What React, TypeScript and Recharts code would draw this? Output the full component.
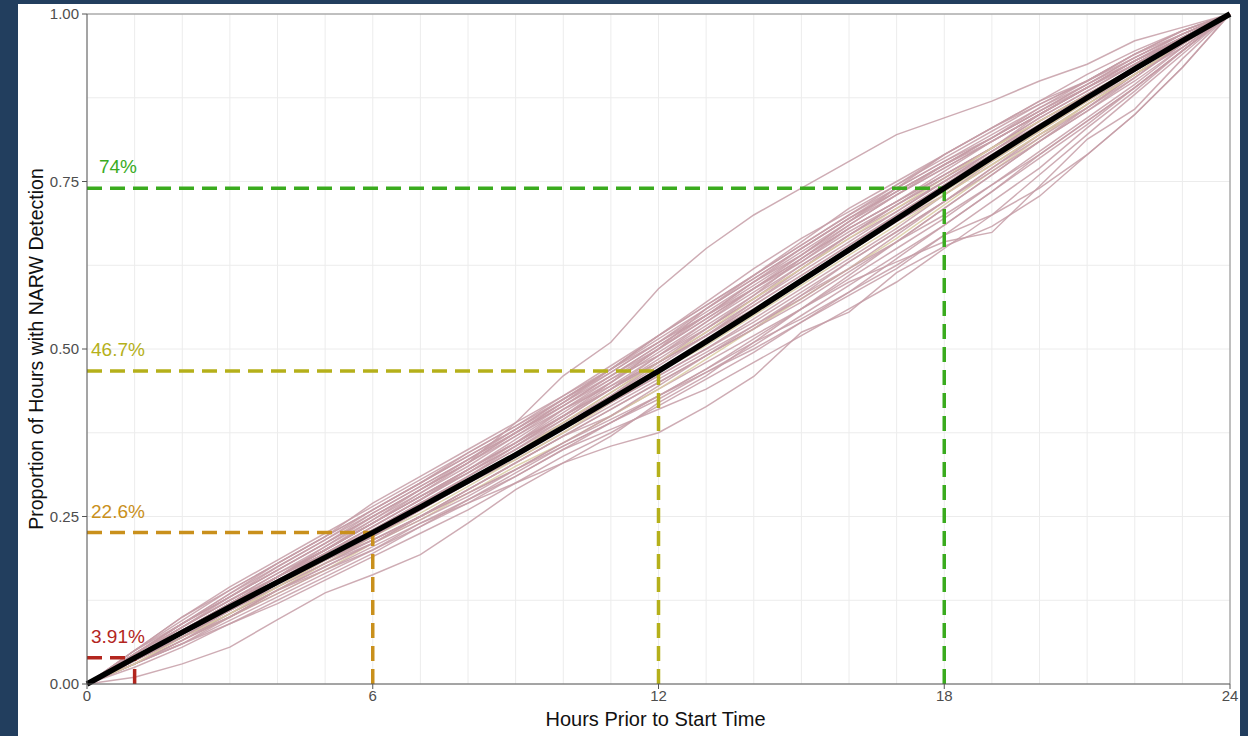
import React from "react";
import {
  LineChart,
  Line,
  XAxis,
  YAxis,
  CartesianGrid,
  ReferenceLine,
  ReferenceDot,
} from "recharts";

// ---------------------------------------------------------------------------
// Data
// ---------------------------------------------------------------------------

const HOURS = [0, 1, 2, 3, 4, 5, 6, 7, 8, 9, 10, 11, 12, 13, 14, 15, 16, 17, 18, 19, 20, 21, 22, 23, 24];

// averaged cumulative proportion (black line)
const MEAN = [
  0, 0.039, 0.077, 0.115, 0.152, 0.189, 0.226, 0.264, 0.303, 0.342, 0.383, 0.425, 0.467,
  0.511, 0.556, 0.602, 0.648, 0.694, 0.74, 0.786, 0.831, 0.875, 0.918, 0.96, 1,
];

// individual runs (pink lines)
const RUNS = [
  [0, .05, .09, .13, .17, .21, .25, .29, .33, .39, .46, .51, .59, .65, .70, .74, .78, .82, .845, .87, .90, .925, .96, .98, 1],
  [0, .03, .06, .10, .14, .18, .21, .25, .29, .33, .37, .40, .44, .48, .52, .56, .60, .63, .66, .674, .743, .813, .858, .933, 1],
  [0, .03, .07, .10, .14, .17, .20, .24, .27, .30, .33, .355, .375, .414, .459, .525, .555, .614, .653, .683, .728, .79, .85, .92, 1],
  [0, .01, .03, .055, .096, .136, .163, .193, .24, .29, .33, .37, .42, .46, .51, .56, .61, .66, .71, .76, .81, .86, .91, .95, 1],
  [0, .05, .10, .14, .18, .22, .27, .31, .35, .39, .43, .47, .51, .55, .59, .63, .68, .72, .76, .80, .85, .89, .93, .97, 1],
  [0, .04, .08, .12, .16, .20, .24, .28, .32, .36, .41, .45, .50, .55, .60, .64, .69, .73, .77, .81, .85, .89, .93, .965, 1],
  [0, .035, .07, .11, .145, .18, .215, .25, .29, .33, .37, .41, .45, .49, .53, .58, .62, .67, .72, .77, .82, .86, .91, .955, 1],
  [0, .045, .085, .125, .165, .20, .24, .28, .315, .355, .40, .44, .48, .52, .57, .62, .67, .71, .75, .79, .83, .87, .91, .955, 1],
  [0, .03, .065, .10, .135, .17, .21, .245, .285, .325, .36, .40, .44, .485, .53, .575, .62, .665, .715, .765, .815, .865, .91, .955, 1],
  [0, .04, .08, .115, .155, .195, .235, .275, .315, .36, .405, .45, .495, .54, .585, .63, .675, .715, .755, .80, .84, .88, .92, .96, 1],
  [0, .035, .075, .11, .15, .185, .22, .26, .30, .34, .38, .42, .46, .50, .545, .59, .635, .68, .73, .78, .825, .87, .915, .96, 1],
  [0, .04, .08, .12, .16, .20, .24, .28, .32, .36, .40, .45, .50, .56, .61, .66, .71, .75, .79, .83, .87, .90, .94, .975, 1],
  [0, .04, .075, .11, .15, .19, .225, .26, .30, .335, .375, .415, .455, .495, .535, .575, .62, .66, .70, .745, .79, .84, .89, .945, 1],
  [0, .035, .07, .105, .14, .18, .22, .255, .295, .335, .375, .42, .465, .51, .555, .60, .645, .69, .735, .78, .825, .87, .915, .96, 1],
  [0, .045, .09, .13, .17, .21, .255, .295, .335, .375, .415, .455, .49, .53, .575, .62, .665, .705, .75, .795, .84, .88, .92, .96, 1],
  [0, .03, .06, .095, .13, .165, .20, .235, .27, .31, .35, .39, .43, .47, .515, .56, .605, .65, .695, .745, .795, .845, .895, .95, 1],
  [0, .04, .08, .12, .155, .19, .23, .27, .305, .345, .385, .43, .475, .52, .565, .61, .655, .70, .745, .79, .835, .875, .915, .96, 1],
  [0, .03, .065, .10, .135, .17, .205, .24, .275, .31, .35, .38, .41, .44, .48, .52, .56, .60, .65, .70, .76, .82, .88, .94, 1],
  [0, .035, .075, .115, .155, .195, .235, .275, .315, .355, .395, .44, .485, .53, .575, .625, .67, .715, .76, .80, .845, .885, .925, .965, 1],
  [0, .04, .085, .13, .17, .21, .25, .29, .33, .37, .41, .445, .48, .52, .56, .60, .645, .69, .73, .775, .82, .865, .91, .955, 1],
  [0, .03, .065, .105, .145, .185, .22, .26, .30, .345, .39, .435, .48, .525, .57, .615, .66, .705, .75, .795, .84, .88, .92, .96, 1],
  [0, .04, .075, .115, .15, .185, .22, .26, .30, .34, .385, .43, .48, .53, .58, .635, .685, .73, .775, .815, .86, .90, .94, .975, 1],
  [0, .035, .07, .105, .14, .175, .21, .25, .29, .33, .37, .41, .45, .49, .53, .57, .615, .66, .71, .76, .81, .855, .90, .95, 1],
  [0, .045, .085, .125, .16, .195, .23, .27, .31, .35, .39, .43, .47, .515, .56, .605, .65, .695, .74, .785, .83, .875, .915, .96, 1],
  [0, .03, .065, .10, .14, .175, .21, .245, .28, .32, .36, .395, .43, .465, .50, .54, .58, .62, .67, .70, .74, .79, .85, .92, 1],
  [0, .04, .08, .12, .16, .20, .24, .285, .33, .375, .42, .465, .51, .555, .60, .645, .69, .735, .775, .815, .855, .895, .935, .97, 1],
  [0, .035, .075, .11, .15, .19, .225, .265, .305, .345, .385, .425, .465, .505, .55, .595, .64, .685, .73, .775, .82, .865, .91, .955, 1],
  [0, .04, .075, .11, .145, .18, .215, .25, .285, .32, .36, .40, .445, .49, .535, .58, .63, .675, .72, .765, .81, .855, .905, .955, 1],
  [0, .04, .08, .12, .16, .20, .24, .28, .32, .36, .40, .44, .49, .54, .59, .64, .69, .74, .79, .83, .87, .91, .945, .975, 1],
  [0, .035, .07, .11, .15, .19, .23, .265, .30, .34, .38, .42, .46, .50, .54, .585, .63, .675, .72, .77, .815, .86, .905, .955, 1],
  [0, .045, .09, .135, .175, .215, .255, .295, .335, .375, .415, .46, .50, .545, .59, .635, .68, .72, .76, .80, .845, .885, .925, .965, 1],
  [0, .03, .06, .09, .125, .16, .195, .235, .275, .315, .355, .39, .425, .465, .505, .55, .595, .64, .685, .735, .785, .835, .89, .945, 1],
  [0, .045, .09, .13, .175, .215, .26, .30, .34, .38, .42, .46, .505, .55, .595, .64, .685, .73, .77, .81, .85, .89, .93, .965, 1],
  [0, .04, .085, .125, .165, .205, .245, .285, .325, .37, .415, .46, .505, .55, .60, .65, .695, .735, .775, .815, .855, .895, .93, .965, 1],
  [0, .05, .095, .14, .18, .22, .26, .30, .345, .385, .425, .465, .51, .56, .605, .65, .695, .74, .78, .82, .86, .895, .935, .97, 1],
  [0, .035, .08, .12, .16, .20, .245, .29, .335, .38, .425, .47, .52, .57, .62, .665, .705, .745, .785, .825, .865, .90, .94, .97, 1],
  [0, .04, .08, .12, .16, .205, .25, .29, .33, .375, .42, .47, .52, .565, .61, .655, .70, .745, .79, .83, .865, .90, .935, .97, 1],
  [0, .045, .09, .135, .18, .22, .26, .30, .34, .38, .425, .47, .515, .56, .605, .65, .695, .735, .775, .81, .85, .89, .93, .965, 1],
  [0, .03, .07, .105, .145, .185, .225, .265, .305, .345, .39, .435, .48, .525, .575, .62, .665, .71, .755, .80, .84, .88, .92, .96, 1],
  [0, .035, .07, .11, .15, .19, .225, .265, .31, .355, .40, .445, .49, .535, .58, .625, .67, .715, .755, .795, .835, .875, .915, .96, 1],
  [0, .04, .08, .12, .16, .195, .235, .275, .32, .365, .41, .455, .50, .545, .59, .635, .68, .72, .765, .81, .85, .89, .925, .965, 1],
  [0, .05, .10, .145, .185, .225, .265, .305, .345, .385, .43, .475, .52, .565, .61, .655, .70, .74, .78, .815, .855, .89, .93, .965, 1],
  [0, .025, .055, .09, .12, .155, .19, .225, .26, .30, .34, .375, .415, .455, .495, .54, .585, .635, .685, .735, .79, .84, .89, .945, 1],
  [0, .035, .075, .115, .155, .19, .23, .27, .31, .35, .395, .44, .48, .52, .565, .61, .655, .70, .745, .79, .835, .88, .92, .96, 1],
  [0, .04, .08, .115, .15, .185, .215, .25, .285, .32, .355, .39, .43, .47, .51, .545, .585, .625, .67, .72, .77, .83, .885, .945, 1],
];

// runs drawn in the paler, yellowish tint
const PALE_RUNS = [13, 26, 8, 38];

// highlighted thresholds
const MARK_HOURS = [1, 6, 12, 18];
const MARK_VALUES = [0.0391, 0.226, 0.467, 0.74];
const MARK_LABELS = ["3.91%", "22.6%", "46.7%", "74%"];
const MARK_COLORS = ["#b3261e", "#c9901c", "#b5b01a", "#3aab1e"];

const X_TICKS = [0, 6, 12, 18, 24];
const Y_TICKS = [0, 0.25, 0.5, 0.75, 1];

// ---------------------------------------------------------------------------
// Chart
// ---------------------------------------------------------------------------

const FONT = "'Liberation Sans', Arial, sans-serif";

const rows = HOURS.map((h, i) => {
  const row: Record<string, number> = { hour: h, mean: MEAN[i] };
  RUNS.forEach((run, r) => {
    row[`run${r}`] = run[i];
  });
  return row;
});

const minorX = HOURS;
const minorY = [0, 0.125, 0.25, 0.375, 0.5, 0.625, 0.75, 0.875, 1];

export default function App() {
  return (
    <div
      style={{
        position: "absolute",
        left: 0,
        top: 0,
        width: 1248,
        height: 736,
        background: "#223e5e",
        overflow: "hidden",
      }}
    >
      <div
        style={{
          position: "absolute",
          left: 18,
          top: 4,
          width: 1222,
          height: 732,
          background: "#ffffff",
        }}
      >
        <LineChart
          width={1222}
          height={732}
          data={rows}
          margin={{ top: 10, right: 10, bottom: 0, left: 0 }}
          style={{ fontFamily: FONT }}
        >
          <CartesianGrid
            stroke="#ececec"
            strokeWidth={1}
            verticalValues={minorX}
            horizontalValues={minorY}
          />
          <XAxis
            dataKey="hour"
            type="number"
            domain={[0, 24]}
            ticks={X_TICKS}
            height={52}
            tickSize={5}
            tickMargin={1}
            stroke="#555555"
            tick={{ fill: "#4d4d4d", fontSize: 15, fontFamily: FONT }}
            label={{
              content: (p: any) => {
                const vb = p.viewBox;
                return (
                  <text
                    x={vb.x + vb.width / 2 - 3}
                    y={vb.y + 42}
                    textAnchor="middle"
                    fill="#111"
                    fontSize={20}
                    fontFamily={FONT}
                  >
                    Hours Prior to Start Time
                  </text>
                );
              },
            }}
          />
          <YAxis
            type="number"
            domain={[0, 1]}
            ticks={Y_TICKS}
            width={69}
            tickSize={5}
            tickMargin={3}
            stroke="#555555"
            tickFormatter={(v: number) => v.toFixed(2)}
            tick={{ fill: "#4d4d4d", fontSize: 15, fontFamily: FONT }}
            label={{
              content: (p: any) => {
                const vb = p.viewBox;
                const cx = 25;
                const cy = vb.y + vb.height / 2;
                return (
                  <text
                    x={cx}
                    y={cy}
                    transform={`rotate(-90, ${cx}, ${cy})`}
                    textAnchor="middle"
                    fill="#111"
                    fontSize={19.5}
                    fontFamily={FONT}
                  >
                    Proportion of Hours with NARW Detection
                  </text>
                );
              },
            }}
          />

          {/* panel border top / right */}
          <ReferenceLine y={1} stroke="#8a8a8a" strokeWidth={1} />
          <ReferenceLine x={24} stroke="#8a8a8a" strokeWidth={1} />

          {RUNS.map((_, r) => (
            <Line
              key={r}
              dataKey={`run${r}`}
              type="linear"
              stroke={PALE_RUNS.includes(r) ? "#d9cba2" : "#c59ea7"}
              strokeOpacity={0.85}
              strokeWidth={1.5}
              dot={false}
              activeDot={false}
              isAnimationActive={false}
            />
          ))}

          {MARK_HOURS.map((h, i) => (
            <ReferenceLine
              key={`h${i}`}
              segment={[
                { x: 0, y: MARK_VALUES[i] },
                { x: h, y: MARK_VALUES[i] },
              ]}
              stroke={MARK_COLORS[i]}
              strokeWidth={3.5}
              strokeDasharray="15 8"
            />
          ))}
          {MARK_HOURS.map((h, i) => (
            <ReferenceLine
              key={`v${i}`}
              segment={[
                { x: h, y: 0 },
                { x: h, y: MARK_VALUES[i] },
              ]}
              stroke={MARK_COLORS[i]}
              strokeWidth={3.5}
              strokeDasharray="15 8"
            />
          ))}

          <Line
            dataKey="mean"
            type="linear"
            stroke="#000000"
            strokeWidth={5.5}
            dot={false}
            activeDot={false}
            isAnimationActive={false}
          />

          {MARK_LABELS.map((lab, i) => (
            <ReferenceDot
              key={`l${i}`}
              x={0.65}
              y={MARK_VALUES[i]}
              r={0}
              fill="none"
              stroke="none"
              label={{
                content: (p: any) => {
                  const vb = p.viewBox;
                  return (
                    <text
                      x={vb.x}
                      y={vb.y - 15}
                      textAnchor="middle"
                      fill={MARK_COLORS[i]}
                      fontSize={19}
                      fontFamily={FONT}
                    >
                      {lab}
                    </text>
                  );
                },
              }}
            />
          ))}
        </LineChart>
      </div>
    </div>
  );
}
